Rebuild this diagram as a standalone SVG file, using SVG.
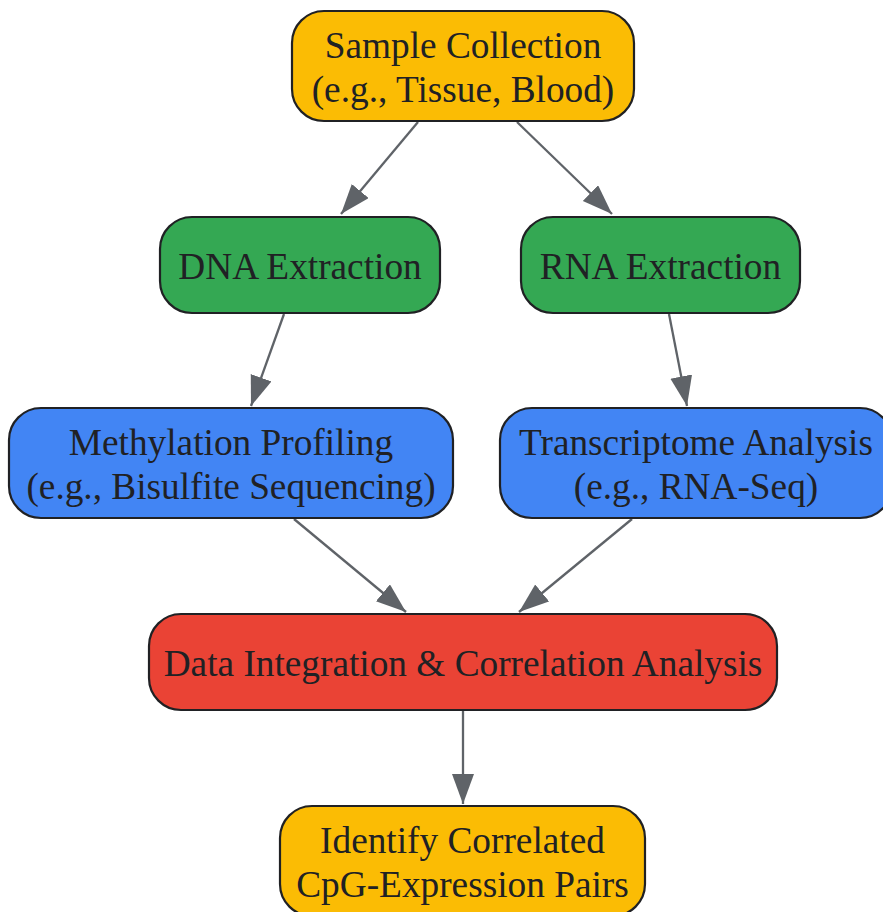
<svg xmlns="http://www.w3.org/2000/svg" width="883" height="912" viewBox="0 0 883 912">
<defs>
<style>
.n rect{stroke:#202124;stroke-width:2.2}
.n text{font-family:"Liberation Serif","Times New Roman",serif;font-size:37.3px;fill:#202124;text-anchor:middle}
.y{fill:#FBBC04}.g{fill:#34A853}.b{fill:#4285F4}.r{fill:#EA4335}
.e line{stroke:#5f6368;stroke-width:2.3}
</style>
<marker id="ah" markerUnits="userSpaceOnUse" markerWidth="32" markerHeight="24" refX="30" refY="11" orient="auto">
<path d="M0,0 L30,11 L0,22 z" fill="#5f6368"/>
</marker>
</defs>
<rect width="883" height="912" fill="#fff"/>
<g id="edges" class="e">
<line x1="418" y1="122" x2="341" y2="214" marker-end="url(#ah)"/>
<line x1="517" y1="122" x2="612" y2="214" marker-end="url(#ah)"/>
<line x1="284" y1="314" x2="251" y2="406" marker-end="url(#ah)"/>
<line x1="669" y1="314" x2="687" y2="406" marker-end="url(#ah)"/>
<line x1="294" y1="519" x2="406" y2="612" marker-end="url(#ah)"/>
<line x1="632" y1="519" x2="519" y2="612" marker-end="url(#ah)"/>
<line x1="463" y1="711" x2="463" y2="804" marker-end="url(#ah)"/>
</g>
<g id="sample" class="n">
<rect class="y" x="292" y="11" width="342" height="110" rx="32"/>
<text x="463" y="58">Sample Collection</text>
<text x="463" y="102">(e.g., Tissue, Blood)</text>
</g>
<g id="dna" class="n">
<rect class="g" x="160" y="217" width="280" height="96" rx="32"/>
<text x="300" y="279">DNA Extraction</text>
</g>
<g id="rna" class="n">
<rect class="g" x="521" y="217" width="279" height="96" rx="32"/>
<text x="660.5" y="279">RNA Extraction</text>
</g>
<g id="methylation" class="n">
<rect class="b" x="9" y="408" width="444" height="110" rx="32"/>
<text x="231" y="455">Methylation Profiling</text>
<text x="231" y="499">(e.g., Bisulfite Sequencing)</text>
</g>
<g id="transcriptome" class="n">
<rect class="b" x="500" y="408" width="392" height="110" rx="32"/>
<text x="696" y="455">Transcriptome Analysis</text>
<text x="696" y="499">(e.g., RNA-Seq)</text>
</g>
<g id="integration" class="n">
<rect class="r" x="149" y="614" width="628" height="96" rx="32"/>
<text x="463" y="676">Data Integration &amp; Correlation Analysis</text>
</g>
<g id="identify" class="n">
<rect class="y" x="280" y="806" width="365" height="110" rx="32"/>
<text x="462.5" y="853">Identify Correlated</text>
<text x="462.5" y="897">CpG-Expression Pairs</text>
</g>
</svg>
